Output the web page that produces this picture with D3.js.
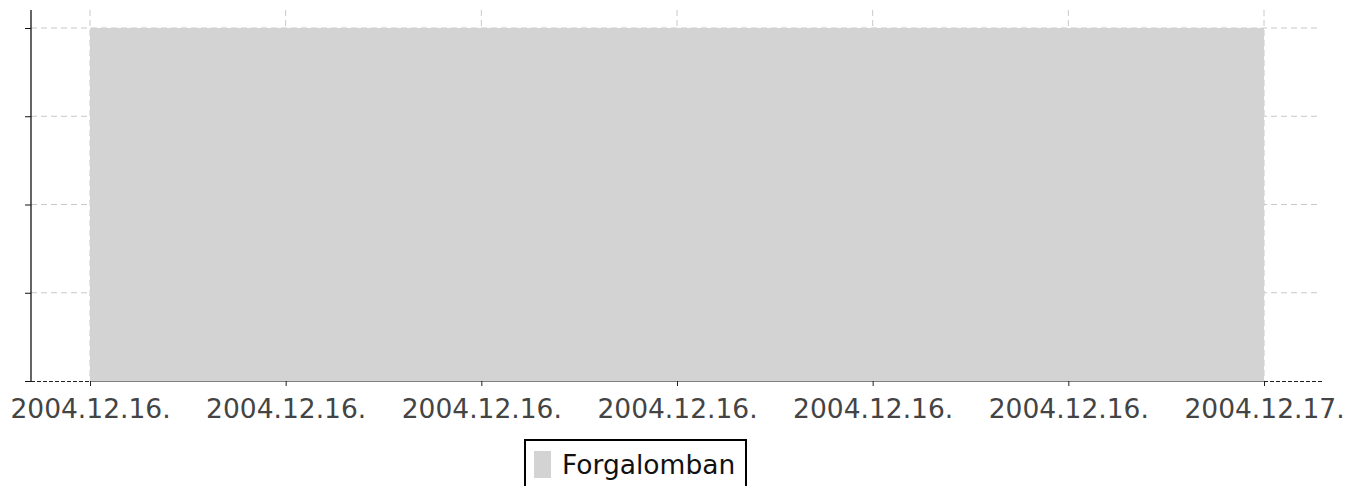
<!DOCTYPE html>
<html>
<head>
<meta charset="utf-8">
<script src="https://cdn.jsdelivr.net/npm/d3@7"></script>
<style>
  body { margin: 0; background: #fff; }
  svg { display: block; font-family: "DejaVu Sans", sans-serif; }
</style>
</head>
<body>
<svg id="chart" width="1345" height="486"></svg>
<script>
// status periods (start, end, value)
const periodStarts = ["2004-12-16T00:00:00", "2004-12-17T00:00:00"];
const periodValues = [1, 1];
const seriesName = "Forgalomban";
const xTickTimes = ["2004-12-16T00:00", "2004-12-16T04:00", "2004-12-16T08:00", "2004-12-16T12:00",
  "2004-12-16T16:00", "2004-12-16T20:00", "2004-12-17T00:00"];
const yTickValues = [0, 0.25, 0.5, 0.75, 1];

const svg = d3.select("#chart");
const parse = d3.isoParse;
const data = periodStarts.map((d, i) => ({ t: parse(d), v: periodValues[i] }));

const x = d3.scaleTime()
  .domain([parse("2004-12-16T00:00:00"), parse("2004-12-17T00:00:00")])
  .range([90, 1264]);
const y = d3.scaleLinear().domain([0, 1.051]).range([381, 10]);

const plotLeft = 31, plotRight = 1322, plotBottom = 381, plotTop = 10;
const xTicks = xTickTimes.map(parse);

// grid
const grid = svg.append("g");
grid.selectAll("line.vg").data(xTicks).join("line")
  .attr("x1", d => x(d)).attr("x2", d => x(d))
  .attr("y1", plotTop).attr("y2", plotBottom)
  .attr("stroke", "#c8c8c8").attr("stroke-dasharray", "6,4");
grid.selectAll("line.hg").data(yTickValues.slice(1)).join("line")
  .attr("x1", plotLeft).attr("x2", 1318)
  .attr("y1", d => y(d)).attr("y2", d => y(d))
  .attr("stroke", "#c8c8c8").attr("stroke-dasharray", "6,4");

// area
const area = d3.area().curve(d3.curveStepAfter)
  .x(d => x(d.t)).y0(y(0)).y1(d => y(d.v));
svg.append("path").datum(data)
  .attr("d", area)
  .attr("fill", "#d3d3d3");

// x axis baseline: grey under the area, dashed dark outside
svg.append("line")
  .attr("x1", x(data[0].t)).attr("x2", x(data[data.length - 1].t))
  .attr("y1", plotBottom + 0.5).attr("y2", plotBottom + 0.5)
  .attr("stroke", "#808080");
svg.append("line")
  .attr("x1", 25).attr("x2", x(data[0].t))
  .attr("y1", plotBottom + 0.5).attr("y2", plotBottom + 0.5)
  .attr("stroke", "#222").attr("stroke-dasharray", "4,2");
svg.append("line")
  .attr("x1", x(data[data.length - 1].t)).attr("x2", plotRight)
  .attr("y1", plotBottom + 0.5).attr("y2", plotBottom + 0.5)
  .attr("stroke", "#222").attr("stroke-dasharray", "4,2");

const fmt = d3.timeFormat("%Y.%m.%d.");
const gx = svg.append("g").attr("transform", `translate(0,${plotBottom})`)
  .call(d3.axisBottom(x).tickValues(xTicks).tickFormat(fmt).tickSize(5).tickPadding(13));
gx.select(".domain").remove();
gx.selectAll(".tick line").attr("stroke", "#222");
gx.selectAll(".tick text")
  .attr("font-size", 26.5).attr("fill", "#444")
  .attr("font-family", "DejaVu Sans, sans-serif");

// y axis
const gy = svg.append("g").attr("transform", `translate(${plotLeft},0)`)
  .call(d3.axisLeft(y).tickValues(yTickValues).tickFormat("").tickSize(6));
gy.select(".domain").attr("d", `M0,${plotTop}V${plotBottom}`).attr("stroke", "#111").attr("stroke-width", 1.3);
gy.selectAll(".tick line").attr("stroke", "#111");

// legend
const legend = svg.append("g").attr("transform", "translate(525,440)");
legend.append("rect").attr("width", 221).attr("height", 52)
  .attr("fill", "#fff").attr("stroke", "#000").attr("stroke-width", 2);
legend.append("rect").attr("x", 9).attr("y", 11).attr("width", 17).attr("height", 27)
  .attr("fill", "#d3d3d3");
legend.append("text").attr("x", 37).attr("y", 34)
  .attr("font-size", 26.5).attr("fill", "#111").text(seriesName);
</script>
</body>
</html>
